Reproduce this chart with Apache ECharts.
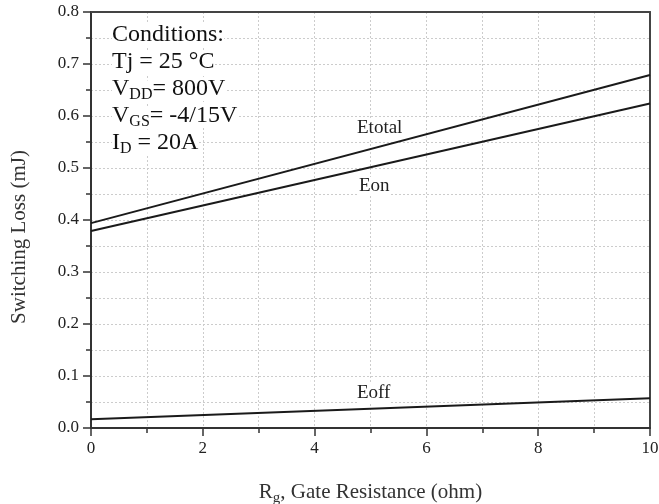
<!DOCTYPE html>
<html><head><meta charset="utf-8">
<script src="https://cdn.jsdelivr.net/npm/echarts@6/dist/echarts.min.js"></script>
<style>html,body{margin:0;padding:0;background:#fff}#c{width:659px;height:504px}</style>
</head><body><div id="c"></div>
<script>
const rg = [0, 10];
const etotal = [0.394, 0.679];
const eon = [0.379, 0.624];
const eoff = [0.017, 0.057];
const xTicks = [0, 2, 4, 6, 8, 10];
const yTicks = [0.0, 0.1, 0.2, 0.3, 0.4, 0.5, 0.6, 0.7, 0.8];

const font = '"Liberation Serif","Times New Roman",serif';
const chart = echarts.init(document.getElementById('c'));
const pair = (xs, ys) => xs.map((x, i) => [x, ys[i]]);
const lineStyle = {color: '#1a1a1a', width: 2};
const grid = {lineStyle: {color: '#ccc', type: [2, 2], width: 1}};
const xMin = xTicks[0], xMax = xTicks[xTicks.length - 1];
const yMin = yTicks[0], yMax = yTicks[yTicks.length - 1];
const frameAxis = {
  axisLine: {show: true, onZero: false, lineStyle: {color: '#444', width: 2}},
  axisTick: {show: false}, axisLabel: {show: false}, splitLine: {show: false}
};
const lab = (text, left, top) => ({type: 'text', left, top, z: 100, style: {text, font: '19px ' + font, fill: '#222', backgroundColor: '#fff'}});
chart.setOption({
  animation: false,
  grid: {left: 91, right: 9, top: 12, bottom: 76, outerBoundsMode: 'none', containLabel: false},
  xAxis: [{
    type: 'value', min: xMin, max: xMax, interval: 2,
    name: '{m|R}{s|g}{m|, Gate Resistance (ohm)}', nameLocation: 'middle', nameGap: 51,
    nameTextStyle: {rich: {m: {fontFamily: font, fontSize: 21, color: '#333'}, s: {fontFamily: font, fontSize: 15, color: '#333', verticalAlign: 'bottom', padding: [12, 0, 0, 0]}}},
    axisLine: {show: true, onZero: false, lineStyle: {color: '#333', width: 2}},
    axisTick: {show: true, inside: false, length: 8, lineStyle: {color: '#333', width: 1.5}},
    minorTick: {show: true, splitNumber: 2, length: 5, lineStyle: {color: '#333', width: 1.5}},
    axisLabel: {fontFamily: font, fontSize: 17, color: '#222', margin: 12},
    splitLine: {show: true, ...grid},
    minorSplitLine: {show: true, ...grid}
  }, {type: 'value', position: 'top', min: xMin, max: xMax, ...frameAxis}],
  yAxis: [{
    type: 'value', min: yMin, max: yMax, interval: 0.1,
    axisLine: {show: true, onZero: false, lineStyle: {color: '#333', width: 2}},
    axisTick: {show: true, inside: false, length: 8, lineStyle: {color: '#333', width: 1.5}},
    minorTick: {show: true, splitNumber: 2, length: 5, lineStyle: {color: '#333', width: 1.5}},
    axisLabel: {fontFamily: font, fontSize: 17, color: '#222', margin: 12, formatter: v => v.toFixed(1)},
    splitLine: {show: true, ...grid},
    minorSplitLine: {show: true, ...grid}
  }, {type: 'value', position: 'right', min: yMin, max: yMax, ...frameAxis}],
  series: [
    {name: 'Etotal', type: 'line', data: pair(rg, etotal), symbol: 'none', lineStyle},
    {name: 'Eon', type: 'line', data: pair(rg, eon), symbol: 'none', lineStyle},
    {name: 'Eoff', type: 'line', data: pair(rg, eoff), symbol: 'none', lineStyle}
  ],
  graphic: [
    {type: 'text', x: 19, y: 237, rotation: Math.PI / 2, style: {text: 'Switching Loss (mJ)', font: '21px ' + font, fill: '#333', align: 'center', verticalAlign: 'middle'}},
    lab('Etotal', 357, 119),
    lab('Eon', 359, 177),
    lab('Eoff', 357, 384),
    {type: 'text', left: 112, top: 23, z: 100, style: {
      text: '{m|Conditions:}\n{m|Tj = 25 °C}\n{m|V}{s|DD}{m|= 800V}\n{m|V}{s|GS}{m|= -4/15V}\n{m|I}{s|D}{m| = 20A}',
      rich: {
        m: {fontFamily: font, fontSize: 24, fill: '#111', lineHeight: 27, backgroundColor: '#fff'},
        s: {fontFamily: font, fontSize: 16, fill: '#111', lineHeight: 27, backgroundColor: '#fff', verticalAlign: 'bottom', padding: [6, 0, 0, 0]}
      }
    }}
  ]
});
</script></body></html>
